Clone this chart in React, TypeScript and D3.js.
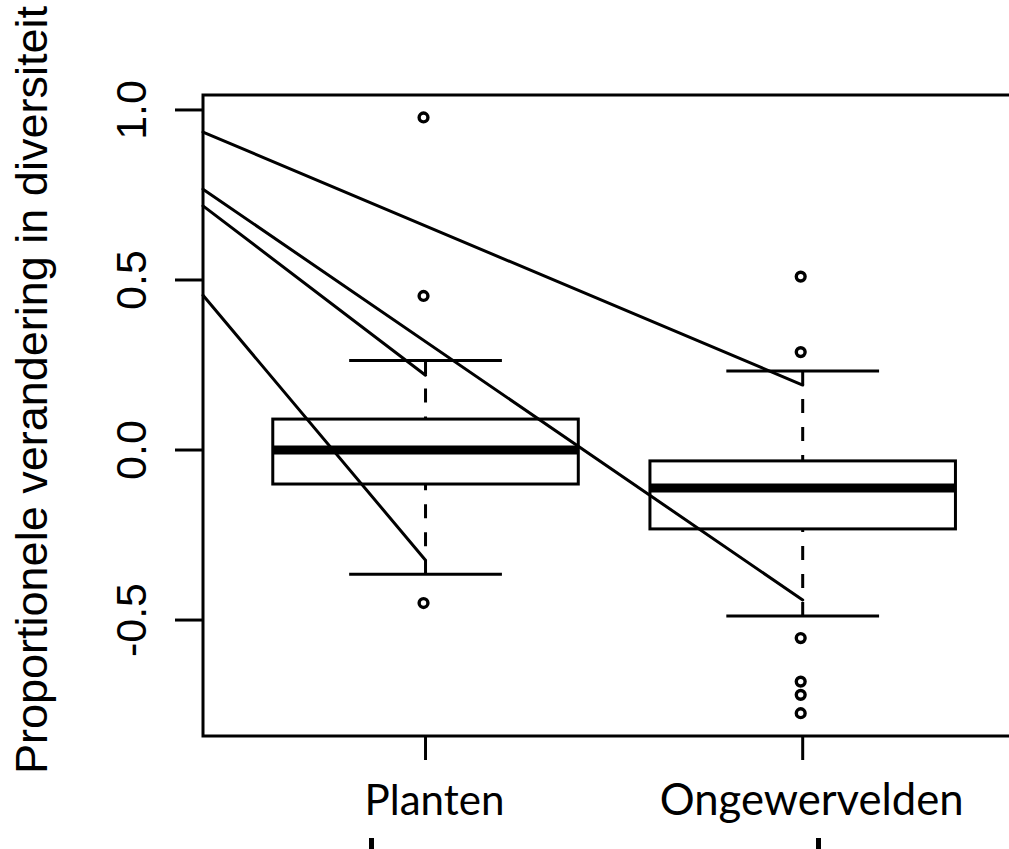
import React, { useEffect, useRef } from 'react';
import * as d3 from 'd3';

// Box statistics per group
const groups = ['Planten', 'Ongewervelden'];
const lowerWhisker = [-0.365, -0.488];
const q1 = [-0.1, -0.232];
const medians = [0.0, -0.112];
const q3 = [0.091, -0.032];
const upperWhisker = [0.263, 0.232];

// Outliers
const outliersPlanten = [0.978, 0.453, -0.45];
const outliersOngewervelden = [0.51, 0.288, -0.553, -0.681, -0.72, -0.774];

// Straight lines coming in from the left edge, ending at a group
const lineStart = [0.935, 0.767, 0.718, 0.455];
const lineEnd = [0.191, -0.441, 0.22, -0.324];
const lineGroup = ['Ongewervelden', 'Ongewervelden', 'Planten', 'Planten'];

// Axis ticks
const yTicks = [-0.5, 0.0, 0.5, 1.0];
const yTickLabels = ['-0.5', '0.0', '0.5', '1.0'];

const yTitle = 'Proportionele verandering in diversiteit';

const App = () => {
  const ref = useRef<SVGSVGElement>(null);

  useEffect(() => {
    const svg = d3.select(ref.current);
    svg.selectAll('*').remove();

    const left = 203;
    const right = 1029;
    const top = 95;
    const bottom = 736;

    // group positions in R's 1..n units, xlim a bit wider than usual
    const x = d3.scaleLinear().domain([0.41, 2.6]).range([left, right]);
    const y = d3.scaleLinear().domain([-0.841, 1.044]).range([bottom, top]);
    const gx = (g: string) => x(groups.indexOf(g) + 1);

    const boxHalf = 0.405;
    const capHalf = boxHalf / 2;

    // plot frame (right side is off the picture)
    svg
      .append('rect')
      .attr('x', left)
      .attr('y', top)
      .attr('width', right - left)
      .attr('height', bottom - top)
      .attr('fill', 'none')
      .attr('stroke', '#000')
      .attr('stroke-width', 3);

    // y ticks + labels
    svg
      .selectAll('.ytick')
      .data(yTicks)
      .enter()
      .append('line')
      .attr('x1', left - 28)
      .attr('x2', left)
      .attr('y1', (d) => y(d))
      .attr('y2', (d) => y(d))
      .attr('stroke', '#000')
      .attr('stroke-width', 3);

    svg
      .selectAll('.ylab')
      .data(yTicks)
      .enter()
      .append('text')
      .attr('transform', (d) => `translate(146, ${y(d)}) rotate(-90)`)
      .attr('text-anchor', 'middle')
      .style('font-family', '"Liberation Sans", Arial, sans-serif')
      .style('font-size', '43px')
      .text((d, i) => yTickLabels[i]);

    // y title
    const title = svg
      .append('text')
      .attr('transform', `translate(47, 774) rotate(-90)`)
      .attr('text-anchor', 'start')
      .style('font-family', '"Liberation Sans", Arial, sans-serif')
      .style('font-size', '45px')
      .text(yTitle);
    const tw = (title.node() as SVGTextElement).getComputedTextLength();
    title.style('font-size', `${(45 * 768) / tw}px`);

    // x ticks + labels
    svg
      .selectAll('.xtick')
      .data(groups)
      .enter()
      .append('line')
      .attr('x1', (d) => gx(d))
      .attr('x2', (d) => gx(d))
      .attr('y1', bottom)
      .attr('y2', bottom + 24)
      .attr('stroke', '#000')
      .attr('stroke-width', 3);

    const labelWidths = [140, 304];
    groups.forEach((g, i) => {
      const t = svg
        .append('text')
        .attr('x', gx(g) + 9)
        .attr('y', 815)
        .attr('text-anchor', 'middle')
        .style('font-family', 'Lato, "Open Sans", sans-serif')
        .style('font-size', '40px')
        .text(g);
      const w = (t.node() as SVGTextElement).getComputedTextLength();
      t.style('font-size', `${(40 * labelWidths[i]) / w}px`);
    });

    // tops of a cut-off text line below the labels
    [371, 818].forEach((mx) => {
      svg.append('rect').attr('x', mx - 2).attr('y', 838).attr('width', 5).attr('height', 11).attr('fill', '#000');
    });

    // whiskers (dashed, drawn from cap toward the box)
    groups.forEach((g, i) => {
      const cx = gx(g);
      [
        [upperWhisker[i], q3[i]],
        [lowerWhisker[i], q1[i]],
      ].forEach(([from, to]) => {
        svg
          .append('line')
          .attr('x1', cx)
          .attr('x2', cx)
          .attr('y1', y(from))
          .attr('y2', y(to))
          .attr('stroke', '#000')
          .attr('stroke-width', 3)
          .attr('stroke-dasharray', '14,14');
      });
      [upperWhisker[i], lowerWhisker[i]].forEach((v) => {
        svg
          .append('line')
          .attr('x1', x(i + 1 - capHalf))
          .attr('x2', x(i + 1 + capHalf))
          .attr('y1', y(v))
          .attr('y2', y(v))
          .attr('stroke', '#000')
          .attr('stroke-width', 3);
      });

      // box
      svg
        .append('rect')
        .attr('x', x(i + 1 - boxHalf))
        .attr('y', y(q3[i]))
        .attr('width', x(i + 1 + boxHalf) - x(i + 1 - boxHalf))
        .attr('height', y(q1[i]) - y(q3[i]))
        .attr('fill', 'none')
        .attr('stroke', '#000')
        .attr('stroke-width', 3);

      // median
      svg
        .append('line')
        .attr('x1', x(i + 1 - boxHalf))
        .attr('x2', x(i + 1 + boxHalf))
        .attr('y1', y(medians[i]))
        .attr('y2', y(medians[i]))
        .attr('stroke', '#000')
        .attr('stroke-width', 9);
    });

    // outliers
    const outliers = [outliersPlanten, outliersOngewervelden];
    outliers.forEach((vals, i) => {
      svg
        .selectAll(`.out${i}`)
        .data(vals)
        .enter()
        .append('circle')
        .attr('cx', x(i + 1) - 2)
        .attr('cy', (d) => y(d))
        .attr('r', 4.4)
        .attr('fill', 'none')
        .attr('stroke', '#000')
        .attr('stroke-width', 3.4);
    });

    // lines from the left edge
    svg
      .selectAll('.pair')
      .data(lineStart)
      .enter()
      .append('line')
      .attr('x1', x(0.41))
      .attr('y1', (d) => y(d))
      .attr('x2', (d, i) => gx(lineGroup[i]))
      .attr('y2', (d, i) => y(lineEnd[i]))
      .attr('stroke', '#000')
      .attr('stroke-width', 3)
      .attr('stroke-linecap', 'round');
  }, []);

  return (
    <svg
      ref={ref}
      width={1009}
      height={849}
      style={{ position: 'absolute', left: 0, top: 0, background: '#fff' }}
    ></svg>
  );
};

export default App;
